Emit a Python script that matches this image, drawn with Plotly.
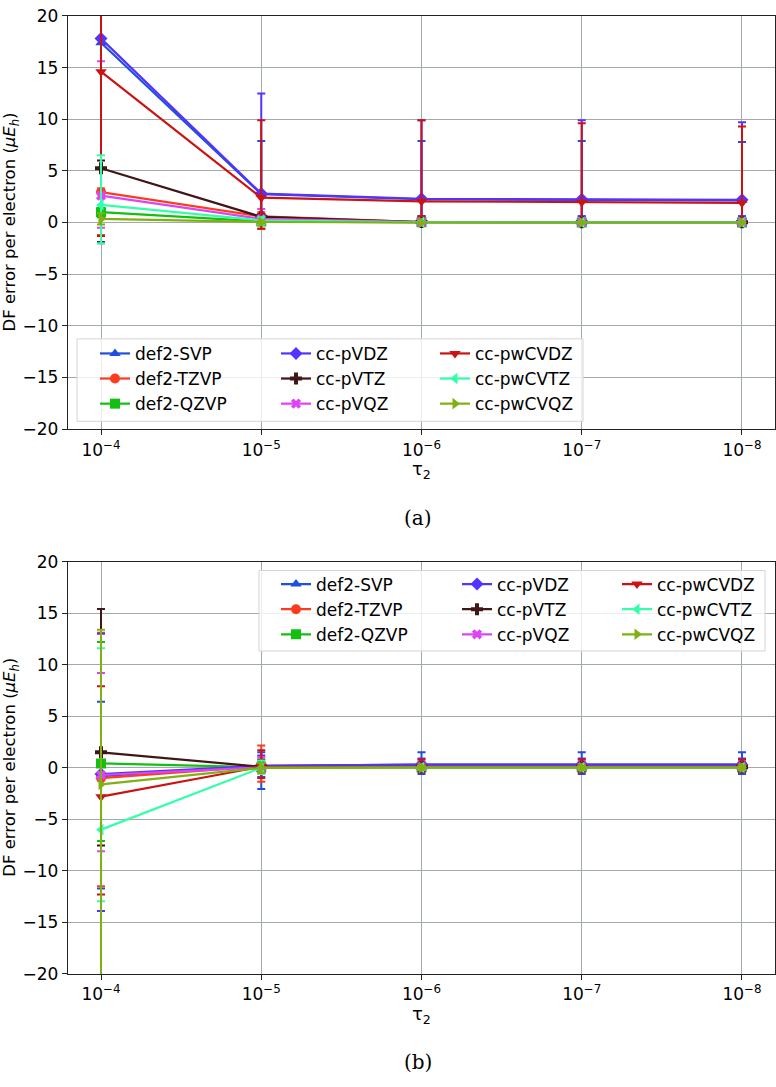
import plotly.graph_objects as go

W, H = 776, 1087

TAU = [1e-4, 1e-5, 1e-6, 1e-7, 1e-8]
TAU_LABELS = ["10<sup>−4</sup>", "10<sup>−5</sup>", "10<sup>−6</sup>", "10<sup>−7</sup>", "10<sup>−8</sup>"]
NAMES = ["def2-SVP", "def2-TZVP", "def2-QZVP", "cc-pVDZ", "cc-pVTZ", "cc-pVQZ",
         "cc-pwCVDZ", "cc-pwCVTZ", "cc-pwCVQZ"]

# ---- panel (a): mean error, top and bottom ends of the error bars ----
A_SVP = [17.4, 2.75, 2.25, 2.2, 2.15]
A_SVP_HI = [30.0, 7.9, 7.9, 7.9, 7.8]
A_SVP_LO = [-2.0, 0.6, 0.6, 0.6, 0.6]
A_TZVP = [2.95, 0.6, 0.05, 0.03, 0.03]
A_TZVP_HI = [3.3, 1.0, 0.3, 0.2, 0.2]
A_TZVP_LO = [-1.2, -0.6, -0.1, -0.1, -0.1]
A_QZVP = [1.0, 0.1, 0.02, 0.01, 0.01]
A_QZVP_HI = [1.4, 0.3, 0.1, 0.1, 0.1]
A_QZVP_LO = [0.5, -0.1, -0.05, -0.05, -0.05]
A_PVDZ = [17.8, 2.8, 2.3, 2.25, 2.2]
A_PVDZ_HI = [30.0, 12.5, 9.9, 9.9, 9.7]
A_PVDZ_LO = [-1.9, 0.6, 0.6, 0.6, 0.6]
A_PVTZ = [5.25, 0.55, 0.05, 0.03, 0.03]
A_PVTZ_HI = [6.0, 0.8, 0.2, 0.2, 0.2]
A_PVTZ_LO = [-1.9, 0.2, -0.1, -0.1, -0.1]
A_PVQZ = [2.6, 0.35, 0.03, 0.02, 0.02]
A_PVQZ_HI = [15.6, 1.3, 0.2, 0.1, 0.1]
A_PVQZ_LO = [-0.5, -0.2, -0.1, -0.1, -0.1]
A_PWCVDZ = [14.6, 2.4, 2.05, 1.95, 1.9]
A_PWCVDZ_HI = [30.0, 9.9, 9.9, 9.6, 9.3]
A_PWCVDZ_LO = [-1.3, -0.6, 0.6, 0.1, 0.1]
A_PWCVTZ = [1.7, 0.2, 0.02, 0.01, 0.01]
A_PWCVTZ_HI = [6.5, 0.5, 0.1, 0.1, 0.1]
A_PWCVTZ_LO = [-2.0, -0.2, -0.05, -0.05, -0.05]
A_PWCVQZ = [0.35, 0.05, 0.0, 0.0, 0.0]
A_PWCVQZ_HI = [0.9, 0.2, 0.05, 0.05, 0.05]
A_PWCVQZ_LO = [-0.2, -0.1, -0.05, -0.05, -0.05]

# ---- panel (b) ----
B_SVP = [-0.8, 0.2, 0.3, 0.3, 0.3]
B_SVP_HI = [6.4, 1.5, 1.5, 1.5, 1.5]
B_SVP_LO = [-11.7, -2.06, -0.6, -0.6, -0.6]
B_TZVP = [-1.0, 0.15, 0.1, 0.1, 0.1]
B_TZVP_HI = [13.1, 2.16, 0.6, 0.6, 0.6]
B_TZVP_LO = [-11.5, -1.36, -0.3, -0.3, -0.3]
B_QZVP = [0.42, 0.05, 0.05, 0.05, 0.05]
B_QZVP_HI = [12.2, 0.6, 0.3, 0.3, 0.3]
B_QZVP_LO = [-7.1, -0.4, -0.2, -0.2, -0.2]
B_PVDZ = [-0.6, 0.2, 0.3, 0.3, 0.3]
B_PVDZ_HI = [13.0, 1.2, 0.9, 0.9, 0.9]
B_PVDZ_LO = [-13.9, -0.9, -0.3, -0.3, -0.3]
B_PVTZ = [1.5, 0.1, 0.05, 0.05, 0.05]
B_PVTZ_HI = [15.4, 0.8, 0.3, 0.3, 0.3]
B_PVTZ_LO = [-7.55, -0.5, -0.2, -0.2, -0.2]
B_PVQZ = [-0.7, 0.05, 0.05, 0.05, 0.05]
B_PVQZ_HI = [9.2, 1.05, 0.3, 0.3, 0.3]
B_PVQZ_LO = [-8.1, -0.5, -0.2, -0.2, -0.2]
B_PWCVDZ = [-2.8, 0.1, 0.1, 0.1, 0.1]
B_PWCVDZ_HI = [7.9, 1.7, 0.8, 0.8, 0.8]
B_PWCVDZ_LO = [-12.3, -1.0, -0.4, -0.4, -0.4]
B_PWCVTZ = [-6.0, 0.0, 0.02, 0.02, 0.02]
B_PWCVTZ_HI = [11.6, 0.7, 0.2, 0.2, 0.2]
B_PWCVTZ_LO = [-12.95, -0.6, -0.2, -0.2, -0.2]
B_PWCVQZ = [-1.6, 0.0, 0.02, 0.02, 0.02]
B_PWCVQZ_HI = [13.4, 0.5, 0.2, 0.2, 0.2]
B_PWCVQZ_LO = [-25.0, -0.5, -0.2, -0.2, -0.2]

A_MEAN = [A_SVP, A_TZVP, A_QZVP, A_PVDZ, A_PVTZ, A_PVQZ, A_PWCVDZ, A_PWCVTZ, A_PWCVQZ]
A_HI = [A_SVP_HI, A_TZVP_HI, A_QZVP_HI, A_PVDZ_HI, A_PVTZ_HI, A_PVQZ_HI, A_PWCVDZ_HI, A_PWCVTZ_HI, A_PWCVQZ_HI]
A_LO = [A_SVP_LO, A_TZVP_LO, A_QZVP_LO, A_PVDZ_LO, A_PVTZ_LO, A_PVQZ_LO, A_PWCVDZ_LO, A_PWCVTZ_LO, A_PWCVQZ_LO]
B_MEAN = [B_SVP, B_TZVP, B_QZVP, B_PVDZ, B_PVTZ, B_PVQZ, B_PWCVDZ, B_PWCVTZ, B_PWCVQZ]
B_HI = [B_SVP_HI, B_TZVP_HI, B_QZVP_HI, B_PVDZ_HI, B_PVTZ_HI, B_PVQZ_HI, B_PWCVDZ_HI, B_PWCVTZ_HI, B_PWCVQZ_HI]
B_LO = [B_SVP_LO, B_TZVP_LO, B_QZVP_LO, B_PVDZ_LO, B_PVTZ_LO, B_PVQZ_LO, B_PWCVDZ_LO, B_PWCVTZ_LO, B_PWCVQZ_LO]

COLORS = ["#1f4fe0", "#ff3b1f", "#12c012", "#5533ff", "#401616", "#dd44f5",
          "#cc1212", "#33ffaa", "#80b012"]
SYMBOLS = ["triangle-up", "circle", "square", "diamond", "cross", "x",
           "triangle-down", "triangle-left", "triangle-right"]
SIZES = [10, 10, 10, 10, 10, 9, 10, 10, 10]


def px(x):
    return x / W


def py(y):
    return 1 - y / H


fig = go.Figure()

# axes geometry in pixels
X0, X1 = 68, 775
PANELS = [
    dict(top=6, bot=427, mean=A_MEAN, hi=A_HI, lo=A_LO, xa="x", ya="y",
         legx=[95, 276, 435], legtop=332, box=(77, 335, 583, 419), cap="(a)",
         xt=469, capy=518),
    dict(top=562, bot=982, mean=B_MEAN, hi=B_HI, lo=B_LO, xa="x2", ya="y2",
         legx=[276, 457, 617], legtop=567, box=(259, 571, 765, 653), cap="(b)",
         xt=1024, capy=1072),
]

legend_counter = 0
for pi, P in enumerate(PANELS):
    legnames = []
    for c in range(3):
        legend_counter += 1
        lname = "legend" if legend_counter == 1 else f"legend{legend_counter}"
        legnames.append(lname)
        fig.update_layout({lname: dict(
            x=px(P["legx"][c]), y=py(P["legtop"]), xanchor="left", yanchor="top",
            bgcolor="rgba(0,0,0,0)", borderwidth=0,
            font=dict(family="DejaVu Sans", size=17, color="#000"),
            tracegroupgap=0, itemwidth=30)})
    for i, name in enumerate(NAMES):
        m, hi, lo = P["mean"][i], P["hi"][i], P["lo"][i]
        fig.add_trace(go.Scatter(
            x=TAU, y=m, name=name, mode="lines+markers",
            xaxis=P["xa"], yaxis=P["ya"],
            legend=legnames[i // 3], legendrank=i,
            line=dict(color=COLORS[i], width=2.2),
            marker=dict(symbol=SYMBOLS[i], size=SIZES[i], color=COLORS[i]),
            error_y=dict(type="data", symmetric=False,
                         array=[h - v for h, v in zip(hi, m)],
                         arrayminus=[v - l for v, l in zip(m, lo)],
                         color=COLORS[i], thickness=2, width=4),
        ))
    # legend frame
    bx0, by0, bx1, by1 = P["box"]
    fig.add_shape(type="rect", xref="paper", yref="paper",
                  x0=px(bx0), x1=px(bx1), y0=py(by1), y1=py(by0),
                  fillcolor="rgba(255,255,255,0.8)",
                  line=dict(color="#d4d4d4", width=1), layer="above")
    # x title and caption
    fig.add_annotation(text="τ<sub>2</sub>", xref="paper", yref="paper",
                       x=px((X0 + X1) / 2), y=py(P["xt"]), showarrow=False,
                       xanchor="center", yanchor="middle",
                       font=dict(family="DejaVu Sans", size=18, color="#000"))
    fig.add_annotation(text=P["cap"], xref="paper", yref="paper",
                       x=px(418), y=py(P["capy"]), showarrow=False,
                       xanchor="center", yanchor="middle",
                       font=dict(family="DejaVu Serif", size=20, color="#000"))
    fig.add_annotation(text="DF error per electron (<i>μE<sub>h</sub></i>)",
                       xref="paper", yref="paper", textangle=-90,
                       x=px(11), y=py((P["top"] + P["bot"]) / 2), showarrow=False,
                       xanchor="center", yanchor="middle",
                       font=dict(family="DejaVu Sans", size=16.5, color="#000"))

axis_common = dict(showline=True, mirror=True, linecolor="#222", linewidth=1.3,
                   showgrid=True, gridcolor="#a2abab", gridwidth=1.2,
                   ticks="outside", ticklen=5, tickwidth=1.2, tickcolor="#222",
                   zeroline=False,
                   tickfont=dict(family="DejaVu Sans", size=17, color="#000"))

for pi, P in enumerate(PANELS):
    sfx = "" if pi == 0 else "2"
    fig.update_layout({
        "xaxis" + sfx: dict(axis_common, type="log", range=[-3.794, -8.206],
                            tickvals=TAU, ticktext=TAU_LABELS,
                            domain=[px(X0), px(X1)],
                            anchor="y" + sfx),
        "yaxis" + sfx: dict(axis_common, range=[-20, 20], tick0=0, dtick=5,
                            domain=[py(P["bot"]), py(P["top"])],
                            anchor="x" + sfx),
    })

fig.update_layout(width=W, height=H, margin=dict(l=0, r=0, t=0, b=0),
                  paper_bgcolor="white", plot_bgcolor="white",
                  showlegend=True)

fig.write_html("out.html")
